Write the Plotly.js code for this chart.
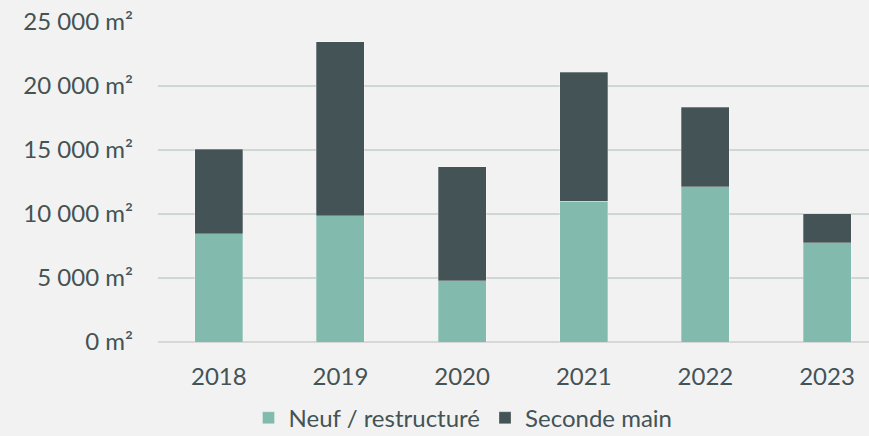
<!DOCTYPE html>
<html>
<head>
<meta charset="utf-8">
<script src="https://cdn.plot.ly/plotly-3.0.1.min.js"></script>
<style>html,body{margin:0;padding:0;background:#f2f2f2;}#chart{width:869px;height:436px;}</style>
</head>
<body>
<div id="chart"></div>
<script>
const years = ['2018', '2019', '2020', '2021', '2022', '2023'];
const neuf = [8460, 9870, 4770, 10980, 12130, 7760];
const secondeMain = [6610, 13590, 8940, 10100, 6220, 2260];
const seriesNames = ['Neuf / restructuré', 'Seconde main'];

const textColor = '#435356';
const traces = [
  {type: 'bar', name: seriesNames[0], x: years, y: neuf,
   marker: {color: '#82bbad', line: {color: 'rgba(255,255,255,0.35)', width: 0.8}}},
  {type: 'bar', name: seriesNames[1], x: years, y: secondeMain,
   marker: {color: '#435356', line: {color: 'rgba(255,255,255,0.35)', width: 0.8}}}
];
const layout = {
  width: 869, height: 436,
  barmode: 'stack', bargap: 0.605,
  paper_bgcolor: '#f2f2f2', plot_bgcolor: '#f2f2f2',
  margin: {l: 158, r: 0, t: 22, b: 93.5, autoexpand: false},
  separators: ', ',
  font: {family: 'Lato, sans-serif', size: 24, color: textColor},
  xaxis: {type: 'category', range: [-0.5, 5.345], showgrid: false, showline: false, automargin: false,
          ticks: '', ticklabelstandoff: 18, tickfont: {size: 24, color: textColor}},
  yaxis: {range: [0, 25000], dtick: 5000, tickformat: ',d', ticksuffix: ' m²', automargin: false,
          gridcolor: '#cfd7d5', gridwidth: 1.2, zeroline: true, zerolinecolor: '#d5d8d7', zerolinewidth: 1.8,
          ticks: '', ticklabelstandoff: 24, tickfont: {size: 24, color: textColor}},
  showlegend: true,
  legend: {orientation: 'h', x: 0.429, xanchor: 'center', xref: 'paper', yref: 'paper', y: -0.238, yanchor: 'middle',
           font: {size: 24, color: textColor}, traceorder: 'normal', itemwidth: 30, bgcolor: 'rgba(0,0,0,0)'}
};
Plotly.newPlot('chart', traces, layout, {displayModeBar: false, staticPlot: true});
</script>
</body>
</html>
